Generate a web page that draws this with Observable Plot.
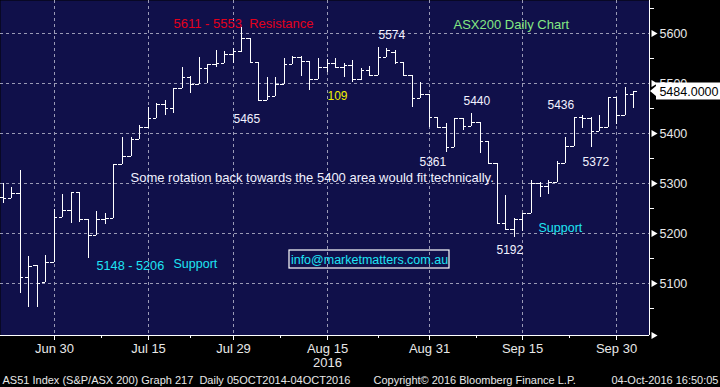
<!DOCTYPE html>
<html><head><meta charset="utf-8">
<script src="https://cdn.jsdelivr.net/npm/d3@7"></script>
<script src="https://cdn.jsdelivr.net/npm/@observablehq/plot@0.6"></script>
<style>html,body{margin:0;padding:0;background:#000;overflow:hidden}</style>
</head><body><div id="chart"></div>
<script>
// ---- data (ASX200 daily OHLC) ----
const dates = ["Jun 22","Jun 23","Jun 24","Jun 27","Jun 28","Jun 29","Jun 30","Jul 1","Jul 4","Jul 5",
"Jul 6","Jul 7","Jul 8","Jul 11","Jul 12","Jul 13","Jul 14","Jul 15","Jul 18","Jul 19",
"Jul 20","Jul 21","Jul 22","Jul 25","Jul 26","Jul 27","Jul 28","Jul 29","Aug 1","Aug 2",
"Aug 3","Aug 4","Aug 5","Aug 8","Aug 9","Aug 10","Aug 11","Aug 12","Aug 15","Aug 16",
"Aug 17","Aug 18","Aug 19","Aug 22","Aug 23","Aug 24","Aug 25","Aug 26","Aug 29","Aug 30",
"Aug 31","Sep 1","Sep 2","Sep 5","Sep 6","Sep 7","Sep 8","Sep 9","Sep 12","Sep 13",
"Sep 14","Sep 15","Sep 16","Sep 19","Sep 20","Sep 21","Sep 22","Sep 23","Sep 26","Sep 27",
"Sep 28","Sep 29","Sep 30","Oct 3","Oct 4"];
const open = [5273,5270,5280,5112,5137,5102,5142,5232,5246,5282,
5228,5196,5228,5230,5339,5354,5388,5412,5430,5458,
5451,5490,5513,5499,5531,5539,5541,5559,5564,5590,
5542,5467,5475,5499,5539,5553,5545,5508,5532,5540,
5532,5537,5508,5527,5517,5553,5563,5543,5517,5470,
5478,5433,5413,5373,5430,5415,5423,5385,5340,5221,
5208,5228,5240,5300,5295,5303,5340,5375,5432,5430,
5405,5412,5472,5437,5478];
const high = [5300,5292,5327,5155,5137,5156,5249,5279,5282,5282,
5228,5245,5240,5339,5392,5393,5417,5453,5461,5467,
5490,5533,5514,5552,5539,5567,5564,5571,5612,5590,
5542,5512,5512,5550,5555,5555,5545,5550,5548,5550,
5541,5547,5531,5535,5573,5570,5567,5543,5517,5503,
5478,5433,5420,5431,5431,5440,5423,5385,5340,5277,
5230,5241,5307,5303,5307,5345,5392,5433,5437,5432,
5437,5473,5473,5492,5485];
const low = [5260,5270,5081,5052,5052,5102,5142,5232,5220,5223,
5150,5196,5218,5230,5339,5354,5388,5410,5430,5437,
5441,5490,5480,5499,5500,5533,5540,5540,5563,5542,
5467,5467,5475,5499,5539,5515,5486,5508,5523,5532,
5513,5503,5507,5515,5517,5553,5539,5515,5453,5470,
5413,5410,5363,5373,5407,5415,5360,5339,5219,5208,
5193,5205,5240,5273,5279,5303,5340,5375,5410,5373,
5404,5412,5418,5437,5451];
const close = [5270,5280,5112,5135,5101,5142,5232,5246,5282,5228,
5196,5228,5230,5339,5354,5388,5412,5430,5458,5451,
5490,5513,5499,5531,5539,5541,5559,5564,5590,5542,
5467,5475,5499,5539,5553,5545,5508,5532,5540,5532,
5536,5508,5527,5517,5553,5567,5543,5517,5470,5478,
5433,5413,5373,5430,5415,5423,5385,5340,5221,5208,
5228,5241,5300,5295,5303,5340,5375,5433,5430,5405,
5412,5472,5437,5478,5484];
const xTickLabels = ["Jun 30","Jul 15","Jul 29","Aug 15","Aug 31","Sep 15","Sep 30"];
const yearLabel = "2016";
const yTicks = [5100,5200,5300,5400,5500,5600];
const yMinorTicks = [5050,5150,5250,5350,5450,5550,5650];
const lastValue = 5484;
const lastLabel = "5484.0000";
const footerLeft = "AS51 Index (S&P/ASX 200) Graph 217  Daily 05OCT2014-04OCT2016";
const footerMid = "Copyright\u00A9 2016 Bloomberg Finance L.P.";
const footerRight = "04-Oct-2016 16:50:05";

// ---- derived ----
const bars = dates.map((d, i) => ({i, date: d, open: open[i], high: high[i], low: low[i], close: close[i]}));
const xTickIdx = xTickLabels.map(l => dates.indexOf(l));
const xMinor = xTickIdx.slice(1).map((v, k) => (v + xTickIdx[k]) / 2);
const aug15 = dates.indexOf("Aug 15");

const RED = "#e4001c", GREEN = "#84e884", CYAN = "#1ee4f4", YELLOW = "#f0f000", WHITE = "#f2f2ff";
const notes = [
  {text: "5611 - 5553  Resistance", x: 19.95, y: 5621, color: RED, size: 13},
  {text: "ASX200 Daily Chart", x: 52.9, y: 5618, color: GREEN, size: 13},
  {text: "5574", x: 44.0, y: 5597, color: WHITE, size: 12},
  {text: "5465", x: 27.0, y: 5429, color: WHITE, size: 12},
  {text: "109", x: 38.0, y: 5475, color: YELLOW, size: 12},
  {text: "5361", x: 48.9, y: 5342, color: WHITE, size: 12},
  {text: "5440", x: 54.0, y: 5465, color: WHITE, size: 12},
  {text: "5436", x: 63.9, y: 5456, color: WHITE, size: 12},
  {text: "5372", x: 67.95, y: 5343, color: WHITE, size: 12},
  {text: "5192", x: 57.9, y: 5167, color: WHITE, size: 12},
  {text: "Support", x: 62.86, y: 5213, color: CYAN, size: 12.5},
  {text: "5148 - 5206", x: 10.95, y: 5137, color: CYAN, size: 12.7},
  {text: "Support", x: 19.95, y: 5141, color: CYAN, size: 12.5},
  {text: "Some rotation back towards the 5400 area would fit technically.", x: 14.94, y: 5312, color: WHITE, size: 13}
];
const infoBox = {text: "info@marketmatters.com.au", x1: 33.64, x2: 52.34, y1: 5166.7, y2: 5130};

const GRID = "#9a9ab6";
const AXIS_TEXT = "#e8e8e8";
const FONT = "'Liberation Sans', Arial, sans-serif";

const chart = Plot.plot({
  width: 720, height: 387,
  marginTop: 0, marginRight: 71, marginBottom: 52, marginLeft: 0,
  style: {background: "#000", fontFamily: FONT, overflow: "visible"},
  x: {type: "linear", domain: [-0.32, 75.85], round: true, label: null},
  y: {domain: [4996.6, 5666.7], round: true, label: null},
  marks: [
    Plot.frame({fill: "#10104a", stroke: "none"}),
    Plot.ruleY(yTicks, {stroke: GRID, strokeDasharray: "3,3"}),
    Plot.ruleX(xTickIdx, {stroke: GRID, strokeDasharray: "3,3"}),
    // OHLC bars
    Plot.ruleX(bars, {x: "i", y1: "low", y2: "high", stroke: "white"}),
    Plot.ruleY(bars, {y: "open", x1: d => d.i - 0.42, x2: "i", stroke: "white"}),
    Plot.ruleY(bars, {y: "close", x1: "i", x2: d => d.i + 0.42, stroke: "white"}),
    // annotations
    ...notes.map(n => Plot.text([n], {x: "x", y: "y", text: "text", fill: n.color, fontSize: n.size, textAnchor: "start"})),
    Plot.rect([infoBox], {x1: "x1", x2: "x2", y1: "y1", y2: "y2", fill: "none", stroke: "white", strokeWidth: 1.2}),
    Plot.text([infoBox], {x: d => (d.x1 + d.x2) / 2, y: d => (d.y1 + d.y2) / 2, text: "text", fill: CYAN, fontSize: 12.5}),
    // axis lines
    Plot.ruleX([75.85], {stroke: "white"}),
    Plot.ruleY([4996.6], {stroke: "white"}),
    // right axis
    Plot.axisY({anchor: "right", ticks: yMinorTicks, tickSize: 4, tickFormat: () => "", stroke: "white"}),
    Plot.axisY({anchor: "right", ticks: yTicks, tickSize: 0, tickPadding: 10, tickFormat: d => String(d), fontSize: 12.5, color: AXIS_TEXT}),
    Plot.dot(yTicks, {y: d => d, frameAnchor: "right", dx: 4, symbol: "triangle", rotate: 90, r: 2.6, fill: "white", stroke: "none"}),
    // bottom axis
    Plot.axisX({anchor: "bottom", ticks: xTickIdx, tickFormat: i => dates[i], tickSize: 5, tickPadding: 3, fontSize: 13, color: AXIS_TEXT, stroke: "white"}),
    Plot.axisX({anchor: "bottom", ticks: xMinor, tickSize: 3, tickFormat: () => "", stroke: "white"}),
    Plot.dot([0], {frameAnchor: "bottom-right", dx: 4, symbol: "triangle", rotate: 90, r: 2.6, fill: "white", stroke: "none"}),
    Plot.text([yearLabel], {x: () => aug15, frameAnchor: "bottom", lineAnchor: "middle", dy: 27, text: d => d, fontSize: 13, fill: AXIS_TEXT}),
    // footer
    Plot.text([footerLeft], {frameAnchor: "bottom-left", lineAnchor: "middle", dx: 2, dy: 45, text: d => d, textAnchor: "start", fontSize: 11, fill: AXIS_TEXT}),
    Plot.text([footerMid], {frameAnchor: "bottom-left", lineAnchor: "middle", dx: 373, dy: 45, text: d => d, textAnchor: "start", fontSize: 11, fill: AXIS_TEXT}),
    Plot.text([footerRight], {frameAnchor: "bottom-right", lineAnchor: "middle", dx: 69, dy: 45, text: d => d, textAnchor: "end", fontSize: 11, fill: AXIS_TEXT}),
    // last-price flag (box drawn as a custom render mark, label as a text mark)
    (index, scales) => {
      const py = scales.y(lastValue);
      const p = document.createElementNS("http://www.w3.org/2000/svg", "path");
      p.setAttribute("d", `M650,${py} L656,${py - 5} L656,${py - 8.5} L720,${py - 8.5} L720,${py + 8.5} L656,${py + 8.5} L656,${py + 5} Z`);
      p.setAttribute("fill", "#ffffff");
      return p;
    },
    Plot.text([lastValue], {y: d => d, frameAnchor: "right", dx: 69, textAnchor: "end", text: () => lastLabel, fill: "#000000", fontSize: 12.5})
  ]
});
document.getElementById("chart").append(chart);
</script>
</body></html>
